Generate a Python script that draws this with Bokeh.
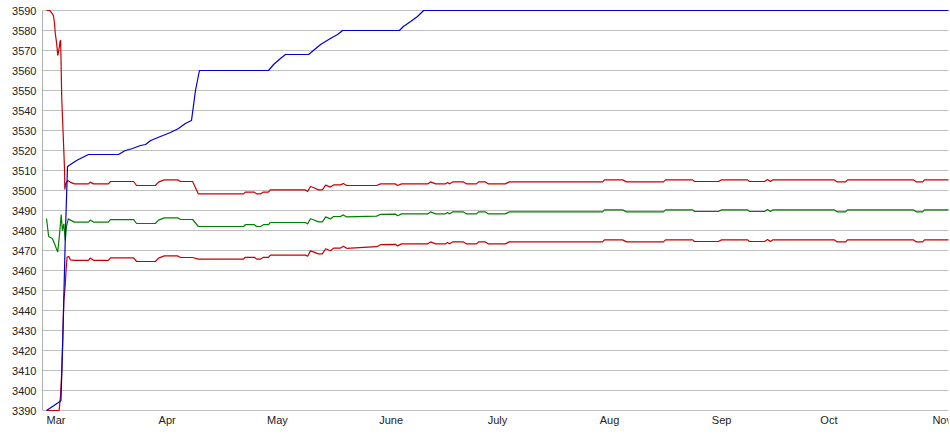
from bokeh.plotting import figure
from bokeh.models import Range1d, FixedTicker, ColumnDataSource
from bokeh.core.properties import value
from bokeh.embed import file_html
from bokeh.resources import INLINE

# ---- data (x = days since Mar 1) ----
month_days = [0, 31, 61, 92, 122, 153, 184, 214, 245]
month_names = ["Mar", "Apr", "May", "June", "July", "Aug", "Sep", "Oct", "Nov"]
y_ticks = list(range(3390, 3600, 10))

high_days = [0, 1.66, 3.32, 4.0, 4.42, 4.84, 5.25, 5.81, 7.47, 8.3, 9.4, 11.6, 19.9, 21.8,
             23.8, 26.0, 27.4, 28.8, 31.5, 34.3, 36.5, 38.4, 40.1, 41.2, 42.3, 61.4, 62.8,
             64.7, 66.1, 72.5, 73.8, 75.8, 78.5, 80.5, 81.9, 97.6, 98.7, 100.7, 102.6,
             104.3, 250.5]
high_vals = [3390, 3392, 3394, 3395, 3420, 3450, 3480, 3512, 3514, 3515, 3516, 3518, 3518,
             3520, 3521, 3522.5, 3523, 3525, 3527, 3529, 3531, 3533.5, 3535, 3550, 3560,
             3560, 3563, 3566, 3568, 3568, 3570, 3573, 3576, 3578, 3580, 3580, 3582,
             3584.5, 3587, 3590, 3590]

upper_early_days = [0, 0.9, 1.5, 1.9, 2.2, 2.4, 2.7, 3.0, 3.1, 3.4, 3.7, 3.9, 4.0, 4.2,
                    4.6, 5.0, 5.06, 5.4, 5.9, 6.55]
upper_early_vals = [3590, 3590, 3588.7, 3587.5, 3584, 3579, 3575, 3570, 3567.5, 3570,
                    3574, 3575.3, 3566.7, 3546.7, 3528.5, 3510, 3500.5, 3503.7, 3505, 3504.2]

mid_early_days = [0, 0.6, 1.6, 2.2, 3.1, 3.6, 4.07, 4.4, 4.8, 5.2, 5.5, 6.0]
mid_early_vals = [3486, 3477, 3476, 3473.5, 3469.2, 3478, 3488, 3480, 3483.3, 3475,
                  3481.7, 3485.8]

lower_early_days = [0, 3.5, 3.9, 4.15, 4.4, 4.8, 5.2, 5.4, 5.7, 6.2, 6.6]
lower_early_vals = [3390, 3390, 3398, 3407, 3420, 3445, 3453, 3460, 3466.7, 3467, 3465.3]

band_days = [7.7, 11.6, 12.1, 13.0, 17.1, 17.7, 24.1, 24.9, 30.1, 31.0, 32.6, 36.2, 37.1,
             40.4, 42.0, 54.5, 55.0, 57.5, 58.1, 59.2, 60.0, 61.4, 61.9, 71.6, 72.2, 73.0,
             73.8, 75.2, 76.3, 77.2, 78.5, 79.4, 81.3, 82.1, 83.0, 91.3, 92.4, 96.5, 97.1,
             98.2, 105.4, 106.2, 107.6, 110.3, 110.9, 111.4, 112.3, 115.3, 116.2, 118.9,
             119.5, 121.4, 122.2, 126.9, 128.0, 153.8, 154.3, 159.3, 160.4, 170.6, 171.2,
             178.7, 179.2, 185.8, 186.7, 193.9, 194.4, 198.6, 199.4, 200.2, 200.8, 217.9,
             218.7, 221.0, 221.5, 239.8, 240.6, 242.3, 242.8, 250.5]
upper_vals = [3503.3, 3503.3, 3504.2, 3503.3, 3503.3, 3504.5, 3504.5, 3502.5, 3502.5, 3504.2,
              3505.3, 3505.3, 3504.5, 3504.5, 3498.3, 3498.3, 3499.2, 3499.2, 3498.3, 3498.3,
              3499.2, 3499.2, 3500.3, 3500.3, 3499.5, 3502.0, 3501.5, 3500.3, 3500.3, 3502.7,
              3501.7, 3502.8, 3502.8, 3503.5, 3502.5, 3502.5, 3503.3, 3503.3, 3502.5, 3503.3,
              3503.3, 3504.3, 3503.3, 3503.3, 3504.0, 3503.3, 3504.3, 3504.3, 3503.3, 3503.3,
              3504.3, 3504.3, 3503.3, 3503.3, 3504.3, 3504.3, 3505.3, 3505.3, 3504.3, 3504.3,
              3505.3, 3505.3, 3504.5, 3504.5, 3505.3, 3505.3, 3504.5, 3504.5, 3505.5, 3504.5,
              3505.3, 3505.3, 3504.3, 3504.3, 3505.3, 3505.3, 3504.3, 3504.3, 3505.3, 3505.3]
mid_vals = [3484.2, 3484.2, 3485.2, 3484.2, 3484.2, 3485.4, 3485.4, 3483.5, 3483.5, 3485.2,
            3486.3, 3486.3, 3485.5, 3485.5, 3482.0, 3482.0, 3482.9, 3482.9, 3482.0, 3482.0,
            3482.9, 3482.9, 3484.0, 3484.0, 3483.3, 3485.9, 3485.4, 3484.3, 3484.3, 3486.8,
            3485.8, 3487.0, 3487.0, 3487.8, 3486.8, 3487.2, 3488.1, 3488.2, 3487.4, 3488.3,
            3488.3, 3489.3, 3488.3, 3488.3, 3489.0, 3488.3, 3489.3, 3489.3, 3488.3, 3488.3,
            3489.3, 3489.3, 3488.3, 3488.3, 3489.3, 3489.3, 3490.3, 3490.3, 3489.3, 3489.3,
            3490.3, 3490.3, 3489.5, 3489.5, 3490.3, 3490.3, 3489.5, 3489.5, 3490.5, 3489.5,
            3490.3, 3490.3, 3489.3, 3489.3, 3490.3, 3490.3, 3489.3, 3489.3, 3490.3, 3490.3]
lower_vals = [3465.1, 3465.1, 3466.2, 3465.1, 3465.1, 3466.3, 3466.3, 3464.5, 3464.5, 3466.2,
              3467.3, 3467.3, 3466.5, 3466.5, 3465.7, 3465.7, 3466.6, 3466.6, 3465.7, 3465.7,
              3466.6, 3466.6, 3467.7, 3467.7, 3467.1, 3469.8, 3469.3, 3468.3, 3468.3, 3470.9,
              3469.9, 3471.2, 3471.2, 3472.1, 3471.1, 3471.9, 3472.9, 3473.1, 3472.3, 3473.3,
              3473.3, 3474.3, 3473.3, 3473.3, 3474.0, 3473.3, 3474.3, 3474.3, 3473.3, 3473.3,
              3474.3, 3474.3, 3473.3, 3473.3, 3474.3, 3474.3, 3475.3, 3475.3, 3474.3, 3474.3,
              3475.3, 3475.3, 3474.5, 3474.5, 3475.3, 3475.3, 3474.5, 3474.5, 3475.5, 3474.5,
              3475.3, 3475.3, 3474.3, 3474.3, 3475.3, 3475.3, 3474.3, 3474.3, 3475.3, 3475.3]

# ---- figure ----
PX_PER_DAY = 3.616
PX_PER_UNIT = 2.0
W, H = 950, 435
LEFT, RIGHT, TOP = 42, 2, 8
TOP_PAD_PX = 2            # keep the 3590 level 2px inside the frame so lines aren't clipped
FRAME_W = W - LEFT - RIGHT
FRAME_H = H - TOP
x0 = -4 / PX_PER_DAY
y1 = y_ticks[-1] + TOP_PAD_PX / PX_PER_UNIT
y0 = y1 - FRAME_H / PX_PER_UNIT   # frame extends below 3390 to leave room for month labels

p = figure(width=W, height=H, output_backend="svg", toolbar_location=None,
           x_range=Range1d(x0, x0 + FRAME_W / PX_PER_DAY),
           y_range=Range1d(y0, y1),
           x_axis_location=None,
           min_border_left=LEFT, min_border_right=RIGHT, min_border_top=TOP,
           min_border_bottom=0)
p.outline_line_color = None
p.background_fill_color = "white"
p.border_fill_color = "white"

p.xgrid.visible = False
p.ygrid.ticker = FixedTicker(ticks=y_ticks)
p.ygrid.grid_line_color = "#c0c0c0"
p.ygrid.grid_line_width = 1

ya = p.yaxis[0]
ya.ticker = FixedTicker(ticks=y_ticks)
ya.bounds = (y_ticks[0], y_ticks[-1])
ya.axis_line_color = "#b0b0b0"
ya.major_tick_line_color = None
ya.minor_tick_line_color = None
ya.major_tick_out = 0
ya.major_tick_in = 0
ya.major_label_standoff = 6
ya.major_label_text_font = "Liberation Sans"
ya.major_label_text_font_size = "11px"
ya.major_label_text_color = "#222222"

RED = "#c80000"
GREEN = "#008000"
BLUE = "#0000c8"
LW = 1.2

p.line(mid_early_days + band_days, mid_early_vals + mid_vals, line_color=GREEN, line_width=LW)
p.line(lower_early_days + band_days, lower_early_vals + lower_vals, line_color=RED, line_width=LW)
p.line(upper_early_days + band_days, upper_early_vals + upper_vals, line_color=RED, line_width=LW)
p.line(high_days, high_vals, line_color=BLUE, line_width=LW)

src = ColumnDataSource(dict(x=month_days, y=[y_ticks[0]] * len(month_days), t=month_names))
p.text(x="x", y="y", text="t", source=src, y_offset=3,
       text_align="left", text_baseline="top",
       text_font=value("Liberation Sans"), text_font_size="11px", text_color="#222222")

open("out.html", "w").write(file_html(p, INLINE))
